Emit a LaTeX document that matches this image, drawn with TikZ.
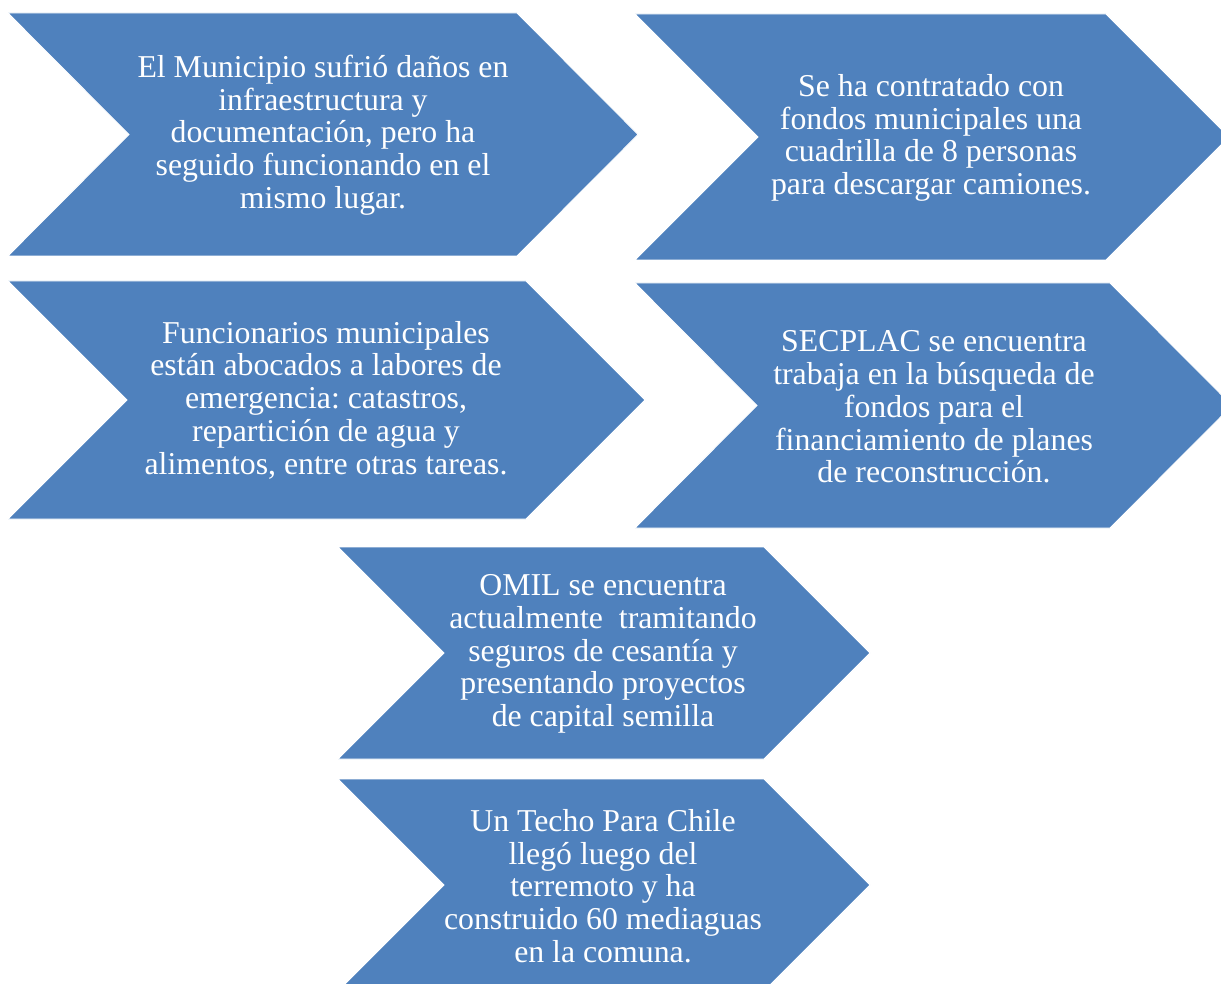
\documentclass[tikz,border=0pt]{standalone}
\usepackage{fontspec}
\setmainfont{Liberation Serif}
\frenchspacing
\definecolor{chev}{HTML}{4F81BD}
\tikzset{
  chevshape/.style={fill=chev, draw=white, line width=0.8pt},
  chevtext/.style={text=white, align=center, inner sep=0pt,
    font=\fontsize{31.8}{32.75}\selectfont}
}
% #1 left x, #2 top y, #3 bottom y, #4 top-right x, #5 depth
\newcommand{\chevronpath}[5]{%
  \fill[chevshape] (#1,#2) -- (#4,#2) -- (#4+#5,{(#2+#3)/2}) -- (#4,#3) -- (#1,#3) -- (#1+#5,{(#2+#3)/2}) -- cycle;}
\begin{document}
\begin{tikzpicture}[x=1pt,y=-1pt]
\useasboundingbox (0,0) rectangle (1221,984);
\clip (0,0) rectangle (1221,984);
\chevronpath{8}{13}{256}{517}{121}
\chevronpath{635}{14}{260}{1106}{123}
\chevronpath{8}{281}{519}{526}{119}
\chevronpath{635}{283}{528}{1110}{122}
\chevronpath{338}{547}{759}{764}{106}
\chevronpath{338}{779}{991}{764}{106}
\node[chevtext] (t1) at (323,135) {El Municipio sufrió daños en\\infraestructura y\\documentación, pero ha\\seguido funcionando en el\\mismo lugar.};
\node[chevtext] (t2) at (931,138) {Se ha contratado con\\fondos municipales una\\cuadrilla de 8 personas\\para descargar camiones.};
\node[chevtext] (t3) at (326,400) {Funcionarios municipales\\están abocados a labores de\\emergencia: catastros,\\repartición de agua y\\alimentos, entre otras tareas.};
\node[chevtext] (t4) at (934,407) {SECPLAC se encuentra\\trabaja en la búsqueda de\\fondos para el\\financiamiento de planes\\de reconstrucción.};
\node[chevtext] (t5) at (603,654) {OMIL se encuentra\\actualmente\ \ tramitando\\seguros de cesantía y\\presentando proyectos\\de capital semilla};
\node[chevtext] (t6) at (603,886) {Un Techo Para Chile\\llegó luego del\\terremoto y ha\\construido 60 mediaguas\\en la comuna.};
\end{tikzpicture}
\end{document}
